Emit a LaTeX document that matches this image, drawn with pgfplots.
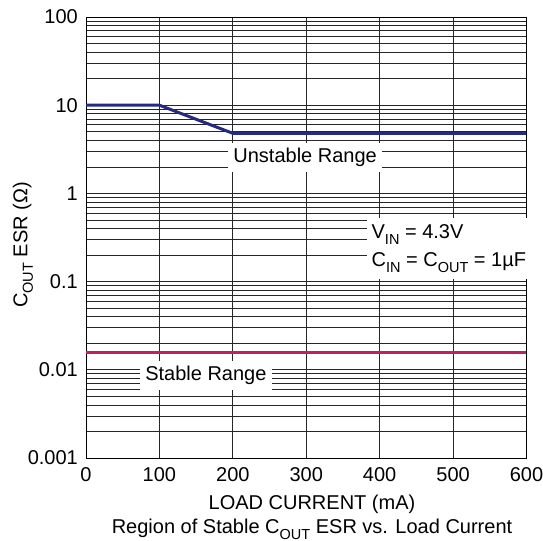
\documentclass[border=0pt]{standalone}
\usepackage{fontspec}
\setmainfont{Liberation Sans}
\usepackage{pgfplots}
\pgfplotsset{compat=1.18}
\definecolor{blueline}{RGB}{38,42,128}
\definecolor{redline}{RGB}{190,32,96}
\newcommand{\sub}[1]{\raisebox{-0.28em}{\fontsize{14.5bp}{15bp}\selectfont #1}}
\begin{document}
\fontsize{20bp}{24bp}\selectfont
\begin{tikzpicture}
\path[use as bounding box] (0,0) rectangle (543bp,-541bp);
\begin{axis}[
  at={(86bp,-458bp)}, anchor=south west,
  scale only axis, width=440.5bp, height=441bp,
  xmin=0, xmax=600, ymode=log, ymin=0.001, ymax=100,
  xtick={0,100,...,600},
  ytick={0.001,0.01,0.1,1,10,100},
  yticklabels={0.001,0.01,0.1,1,10,100},
  minor ytick={0.002,0.003,0.004,0.005,0.006,0.007,0.008,0.009,
    0.02,0.03,0.04,0.05,0.06,0.07,0.08,0.09,
    0.2,0.3,0.4,0.5,0.6,0.7,0.8,0.9,
    2,3,4,5,6,7,8,9,20,30,40,50,60,70,80,90},
  xmajorgrids, ymajorgrids, yminorgrids,
  major grid style={black!85, line width=0.7bp},
  minor grid style={black!85, line width=0.7bp},
  major tick length=0pt, minor tick length=0pt,
  axis line style={black, line width=0.8bp},
  /pgf/number format/assume math mode=true,
  tick label style={font=\fontsize{20bp}{24bp}\selectfont, inner sep=0pt},
  xticklabel style={anchor=north, yshift=-9bp},
  yticklabel style={anchor=east, xshift=-8bp},
  clip=false,
]
\addplot[blueline, line width=3bp] coordinates {(0,10) (100,10) (200,4.8) (600,4.8)};
\addplot[redline, line width=3bp] coordinates {(0,0.0156) (600,0.0156)};
\node[fill=white, anchor=west, inner xsep=5bp, inner ysep=5bp] at (axis cs:193.7,2.57) {Unstable Range};
\node[fill=white, anchor=west, inner xsep=5bp, inner ysep=5bp] at (axis cs:73.7,0.00857) {Stable Range};
\node[fill=white, anchor=west, inner xsep=5bp, inner ysep=7bp, align=left] at (axis cs:382,0.237)
  {V\sub{IN} = 4.3V\\[4bp] C\sub{IN} = C\sub{OUT} = 1µF};
\end{axis}
\node[rotate=90] at (23bp,-245bp) {C\sub{OUT} ESR (Ω)};
\node[anchor=base] at (312bp,-509.5bp) {LOAD CURRENT (mA)};
\node[anchor=base] at (312bp,-533.5bp) {Region of Stable C\sub{OUT} ESR vs. Load Current};
\end{tikzpicture}
\end{document}
